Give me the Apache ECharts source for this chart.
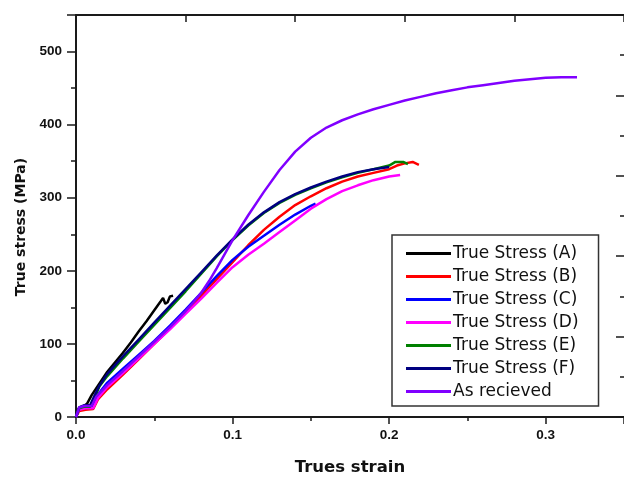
<!DOCTYPE html>
<html>
<head>
<meta charset="utf-8">
<script src="https://cdn.jsdelivr.net/npm/echarts@6/dist/echarts.min.js"></script>
<style>
    html, body { margin: 0; padding: 0; background: #fff; }
    #chart { width: 624px; height: 481px; }
</style>
</head>
<body>
<div id="chart"></div>
<script>
    // [true strain, true stress (MPa)]
    var curveA = [[0,0],[0.002,12],[0.005,15],[0.007,18],[0.01,30],[0.015,46],[0.02,62],[0.025,75],[0.03,88],[0.035,102],
        [0.04,117],[0.045,131],[0.05,146],[0.054,158],[0.0556,163],[0.057,155],[0.0585,157],[0.06,165],[0.062,166]];
    var curveB = [[0,0],[0.002,8],[0.006,10],[0.011,11],[0.014,24],[0.02,38],[0.03,58],[0.04,79],[0.05,100],[0.06,121],
        [0.07,143],[0.08,166],[0.09,189],[0.1,212],[0.11,235],[0.12,256],[0.13,274],[0.14,290],[0.15,302],[0.16,313],
        [0.17,322],[0.18,329],[0.19,334],[0.2,339],[0.205,344],[0.21,347],[0.215,349],[0.219,345]];
    var curveC = [[0,0],[0.002,12],[0.005,14],[0.01,14],[0.013,28],[0.02,47],[0.03,66],[0.04,85],[0.05,104],[0.06,125],
        [0.07,147],[0.08,170],[0.09,193],[0.1,215],[0.11,233],[0.12,248],[0.13,263],[0.14,277],[0.15,289],[0.153,292]];
    var curveD = [[0,0],[0.002,10],[0.006,12],[0.011,12],[0.014,26],[0.02,41],[0.03,60],[0.04,80],[0.05,100],[0.06,120],
        [0.07,141],[0.08,162],[0.09,184],[0.1,205],[0.11,222],[0.12,237],[0.13,253],[0.14,269],[0.15,285],[0.16,298],
        [0.17,309],[0.18,317],[0.19,324],[0.2,329],[0.207,331]];
    var curveE = [[0,0],[0.002,12],[0.005,14],[0.009,14],[0.011,22],[0.015,42],[0.02,56],[0.03,80],[0.04,103],[0.05,126],
        [0.06,149],[0.07,172],[0.08,196],[0.09,220],[0.1,242],[0.11,262],[0.12,279],[0.13,293],[0.14,304],[0.15,313],
        [0.16,321],[0.17,328],[0.18,334],[0.19,339],[0.2,344],[0.204,349],[0.209,349],[0.212,346]];
    var curveF = [[0,0],[0.002,13],[0.005,16],[0.009,16],[0.012,30],[0.015,43],[0.02,59],[0.03,83],[0.04,106],[0.05,129],
        [0.06,152],[0.07,175],[0.08,198],[0.09,221],[0.1,243],[0.11,263],[0.12,280],[0.13,294],[0.14,305],[0.15,314],
        [0.16,322],[0.17,329],[0.18,335],[0.19,339],[0.2,342]];
    var curveAsReceived = [[0,0],[0.002,13],[0.005,15],[0.01,15],[0.013,28],[0.02,44],[0.03,63],[0.04,83],[0.05,103],
        [0.06,123],[0.07,145],[0.075,157],[0.08,170],[0.085,186],[0.09,204],[0.1,242],[0.11,276],[0.12,308],[0.13,338],
        [0.14,363],[0.15,382],[0.16,396],[0.17,406],[0.18,414],[0.19,421],[0.2,427],[0.21,433],[0.22,438],[0.23,443],
        [0.24,447],[0.25,451],[0.26,454],[0.27,457],[0.28,460],[0.29,462],[0.3,464],[0.31,465],[0.32,465]];

    var seriesNames = ['True Stress (A)', 'True Stress (B)', 'True Stress (C)', 'True Stress (D)',
        'True Stress (E)', 'True Stress (F)', 'As recieved'];
    var seriesColors = ['#000000', '#ff0000', '#0000ff', '#ff00ff', '#008000', '#000080', '#8000ff'];
    var seriesData = [curveA, curveB, curveC, curveD, curveE, curveF, curveAsReceived];

    var AXIS_COLOR = '#1a1a1a';
    var LABEL_FONT = {color: '#111', fontFamily: 'Liberation Sans', fontWeight: 'bold', fontSize: 13.5};

    var series = [];
    seriesNames.forEach(function (name, i) {
        series.push({
            name: name,
            type: 'line',
            data: seriesData[i],
            showSymbol: false,
            symbol: 'none',
            lineStyle: {color: seriesColors[i], width: 2.5},
            itemStyle: {color: seriesColors[i]}
        });
    });

    var option = {
        animation: false,
        backgroundColor: '#fff',
        // plot box runs a little past the right edge of the picture
        grid: {left: 76, top: 15, width: 550.5, height: 407.5},
        legend: {
            orient: 'vertical',
            left: 392,
            top: 235,
            data: seriesNames,
            icon: 'rect',
            itemWidth: 45,
            itemHeight: 3,
            itemGap: 6,
            padding: [10, 20, 6, 14],
            backgroundColor: '#fff',
            borderColor: '#333',
            borderWidth: 1.5,
            textStyle: {color: '#111', fontFamily: 'DejaVu Sans', fontSize: 17, padding: [0, 0, 0, -3]}
        },
        xAxis: [{
            type: 'value',
            position: 'bottom',
            min: 0,
            max: 0.35,
            interval: 0.1,
            name: 'Trues strain',
            nameLocation: 'middle',
            nameGap: 42,
            nameTextStyle: {color: '#111', fontFamily: 'DejaVu Sans', fontWeight: 'bold', fontSize: 16.5},
            axisLine: {onZero: false, lineStyle: {color: AXIS_COLOR, width: 2}},
            axisTick: {inside: false, length: 7, lineStyle: {color: AXIS_COLOR, width: 1.5}},
            minorTick: {show: true, splitNumber: 2, length: 4, lineStyle: {color: AXIS_COLOR, width: 1.5}},
            axisLabel: {
                margin: 11,
                showMaxLabel: false,
                formatter: function (v) { return v.toFixed(1); },
                color: LABEL_FONT.color, fontFamily: LABEL_FONT.fontFamily,
                fontWeight: LABEL_FONT.fontWeight, fontSize: LABEL_FONT.fontSize
            },
            splitLine: {show: false}
        }, {
            // top frame with its own inner ticks
            type: 'value',
            position: 'top',
            min: 0,
            max: 5,
            interval: 1,
            axisLine: {onZero: false, lineStyle: {color: AXIS_COLOR, width: 2}},
            axisTick: {inside: true, length: 7, lineStyle: {color: AXIS_COLOR, width: 1.5}},
            axisLabel: {show: false},
            splitLine: {show: false}
        }],
        yAxis: [{
            type: 'value',
            position: 'left',
            min: 0,
            max: 550,
            interval: 100,
            name: 'True stress (MPa)',
            nameLocation: 'middle',
            nameGap: 47,
            nameTextStyle: {color: '#111', fontFamily: 'DejaVu Sans', fontWeight: 'bold', fontSize: 14, padding: [0, 22, 0, 0]},
            axisLine: {show: true, onZero: false, lineStyle: {color: AXIS_COLOR, width: 2}},
            axisTick: {show: true, inside: false, length: 9, lineStyle: {color: AXIS_COLOR, width: 1.5}},
            minorTick: {show: true, splitNumber: 2, length: 5, lineStyle: {color: AXIS_COLOR, width: 1.5}},
            axisLabel: {
                margin: 14,
                showMaxLabel: false,
                color: LABEL_FONT.color, fontFamily: LABEL_FONT.fontFamily,
                fontWeight: LABEL_FONT.fontWeight, fontSize: LABEL_FONT.fontSize
            },
            splitLine: {show: false}
        }, {
            // right frame: only its inner ticks show in the picture
            type: 'value',
            position: 'right',
            min: 0,
            max: 5,
            interval: 1,
            axisLine: {show: false, onZero: false},
            axisTick: {show: true, inside: true, length: 8, lineStyle: {color: AXIS_COLOR, width: 1.5}},
            minorTick: {show: true, splitNumber: 2, length: 4, lineStyle: {color: AXIS_COLOR, width: 1.5}},
            axisLabel: {show: false},
            splitLine: {show: false}
        }],
        series: series
    };

    var chart = echarts.init(document.getElementById('chart'));
    chart.setOption(option);
</script>
</body>
</html>
